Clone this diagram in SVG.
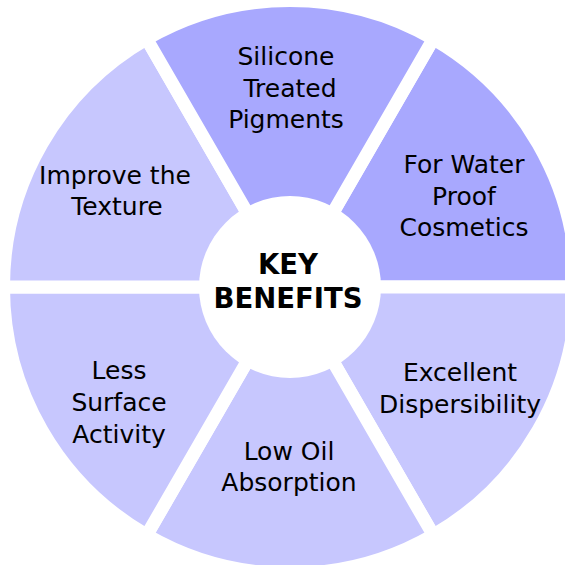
<svg xmlns="http://www.w3.org/2000/svg" width="565" height="565" viewBox="0 0 565 565">
<style>
.dark{fill:#a8a8fe;stroke:#ffffff;stroke-width:13}
.light{fill:#c7c7fe;stroke:#ffffff;stroke-width:13}
.lbl{font-family:"DejaVu Sans",sans-serif;font-size:25px;fill:#000;text-anchor:middle}
.hub{font-family:"DejaVu Sans",sans-serif;font-size:27.5px;font-weight:bold;fill:#000;text-anchor:middle}
</style>
<rect width="565" height="565" fill="#ffffff"/>
<g id="node-water-proof">
<path class="dark" d="M290,287 L433.25,38.88 A286.5,286.5 0 0 1 576.5,287 Z"/>
<text class="lbl" x="464" y="173">For Water</text>
<text class="lbl" x="464" y="205">Proof</text>
<text class="lbl" x="464" y="236">Cosmetics</text>
</g>
<g id="node-dispersibility">
<path class="light" d="M290,287 L576.5,287 A286.5,286.5 0 0 1 433.25,535.12 Z"/>
<text class="lbl" x="460" y="381">Excellent</text>
<text class="lbl" x="460" y="412.5">Dispersibility</text>
</g>
<g id="node-low-oil">
<path class="light" d="M290,287 L433.25,535.12 A286.5,286.5 0 0 1 146.75,535.12 Z"/>
<text class="lbl" x="289" y="459.5">Low Oil</text>
<text class="lbl" x="289" y="491">Absorption</text>
</g>
<g id="node-less-surface">
<path class="light" d="M290,287 L146.75,535.12 A286.5,286.5 0 0 1 3.5,287 Z"/>
<text class="lbl" x="119" y="379">Less</text>
<text class="lbl" x="119" y="411">Surface</text>
<text class="lbl" x="119" y="442.5">Activity</text>
</g>
<g id="node-texture">
<path class="light" d="M290,287 L3.5,287 A286.5,286.5 0 0 1 146.75,38.88 Z"/>
<text class="lbl" x="115" y="184">Improve the</text>
<text class="lbl" x="117" y="215">Texture</text>
</g>
<g id="node-silicone">
<path class="dark" d="M290,287 L146.75,38.88 A286.5,286.5 0 0 1 433.25,38.88 Z"/>
<text class="lbl" x="286" y="65">Silicone</text>
<text class="lbl" x="290" y="96.5">Treated</text>
<text class="lbl" x="286" y="128">Pigments</text>
</g>
<g id="node-key-benefits">
<circle cx="290" cy="287" r="91" fill="#ffffff"/>
<text class="hub" x="288" y="274">KEY</text>
<text class="hub" x="288" y="308">BENEFITS</text>
</g>
<g id="connectors"/>
</svg>
